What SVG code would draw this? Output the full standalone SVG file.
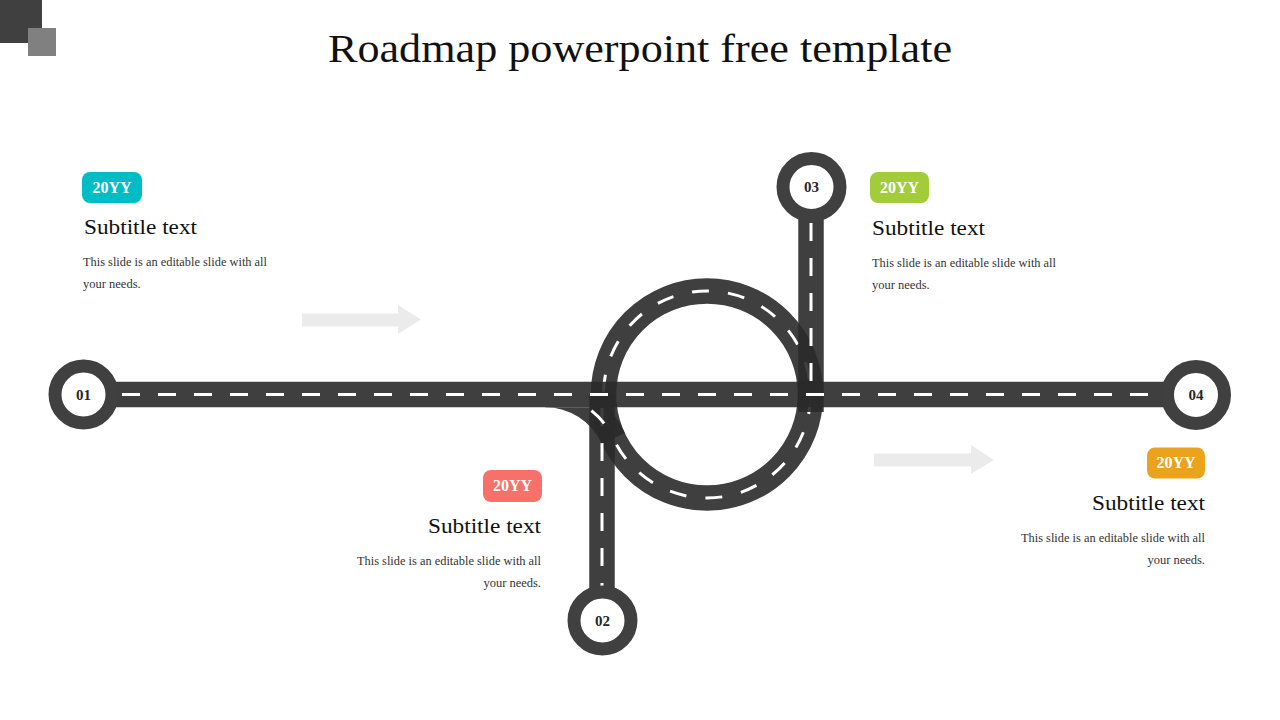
<svg xmlns="http://www.w3.org/2000/svg" width="1280" height="720" viewBox="0 0 1280 720">
<style>
.road{fill:none;stroke:#2a2a2a;stroke-opacity:0.9;stroke-width:25.5}
.dash{fill:none;stroke:#ffffff;stroke-width:3}
.node circle{fill:#ffffff;stroke:#404040;stroke-width:13}
.node text{font-family:"Liberation Serif","DejaVu Serif",serif;font-weight:bold;font-size:15px;fill:#262626;text-anchor:middle}
.badge text{font-family:"Liberation Serif","DejaVu Serif",serif;font-weight:bold;font-size:16px;fill:#ffffff;text-anchor:middle}
.sub{font-family:"Liberation Serif","DejaVu Serif",serif;font-size:22px;fill:#111111}
.body{font-family:"Liberation Serif","DejaVu Serif",serif;font-size:12.5px;fill:#333333}
.arrow{fill:#ebebeb}
</style>
<defs>
<clipPath id="belowMain"><rect x="500" y="407.2" width="200" height="100"/></clipPath>
</defs>
<rect width="1280" height="720" fill="#ffffff"/>
<g id="corner">
<rect x="0" y="0" width="42" height="43" fill="#404040"/>
<rect x="28" y="28" width="28" height="28" fill="#808080"/>
</g>
<text id="title" x="640" y="62" text-anchor="middle" font-family="'Liberation Serif','DejaVu Serif',serif" font-size="40" fill="#111111" textLength="624" lengthAdjust="spacingAndGlyphs">Roadmap powerpoint free template</text>
<g id="arrows">
<polygon class="arrow" points="302,313.5 398,313.5 398,305 421,319.5 398,334 398,326.5 302,326.5"/>
<polygon class="arrow" points="874,453.5 971,453.5 971,445 994,460 971,474 971,466.5 874,466.5"/>
</g>
<g id="connectors">
<g id="loop">
<circle class="road" cx="707" cy="394.5" r="103.5"/>
<circle class="dash" cx="707" cy="394.5" r="103.5" stroke-dasharray="17 19.13" stroke-dashoffset="-2.5"/>
</g>
<g id="road-02">
<line class="road" x1="602" y1="394" x2="602" y2="620"/>
<line class="dash" x1="602" y1="408" x2="602" y2="590" stroke-dasharray="18 17"/>
</g>
<g id="curve" clip-path="url(#belowMain)">
<path class="road" d="M545 394.5 A75 75 0 0 1 613.2 438.2"/>
<path class="dash" d="M545 394.5 A75 75 0 0 1 613.2 438.2" stroke-dasharray="18 18" stroke-dashoffset="-14"/>
</g>
<g id="road-03">
<line class="road" x1="811" y1="187" x2="811" y2="412"/>
<line class="dash" x1="811" y1="223" x2="811" y2="382" stroke-dasharray="18 17"/>
</g>
<g id="road-main">
<line class="road" x1="84" y1="394.5" x2="1196" y2="394.5"/>
<line class="dash" x1="122" y1="394.5" x2="1160" y2="394.5" stroke-dasharray="18 18"/>
</g>
</g>
<g id="node-01" class="node"><circle cx="83.5" cy="394.5" r="28.5"/><text x="83.5" y="399.5">01</text></g>
<g id="node-02" class="node"><circle cx="602.5" cy="620.5" r="28.5"/><text x="602.5" y="625.5">02</text></g>
<g id="node-03" class="node"><circle cx="811.5" cy="187" r="28.5"/><text x="811.5" y="192">03</text></g>
<g id="node-04" class="node"><circle cx="1196" cy="395" r="28.5"/><text x="1196" y="400">04</text></g>
<g id="item-1">
<g class="badge"><rect x="82" y="172" width="60" height="31" rx="8" fill="#00bcc5"/><text x="112" y="192.5">20YY</text></g>
<text class="sub" x="84" y="234" textLength="113" lengthAdjust="spacingAndGlyphs">Subtitle text</text>
<text class="body" x="83" y="266" textLength="184" lengthAdjust="spacingAndGlyphs">This slide is an editable slide with all</text>
<text class="body" x="83" y="288">your needs.</text>
</g>
<g id="item-2">
<g class="badge"><rect x="483" y="470" width="59" height="32" rx="8" fill="#f7706a"/><text x="512.5" y="491">20YY</text></g>
<text class="sub" x="428" y="533" textLength="113" lengthAdjust="spacingAndGlyphs">Subtitle text</text>
<text class="body" x="357" y="565" textLength="184" lengthAdjust="spacingAndGlyphs">This slide is an editable slide with all</text>
<text class="body" x="541" y="587" text-anchor="end">your needs.</text>
</g>
<g id="item-3">
<g class="badge"><rect x="870" y="172" width="59" height="31" rx="8" fill="#a3cc3a"/><text x="899.5" y="192.5">20YY</text></g>
<text class="sub" x="872" y="235" textLength="113" lengthAdjust="spacingAndGlyphs">Subtitle text</text>
<text class="body" x="872" y="266.5" textLength="184" lengthAdjust="spacingAndGlyphs">This slide is an editable slide with all</text>
<text class="body" x="872" y="288.5">your needs.</text>
</g>
<g id="item-4">
<g class="badge"><rect x="1147" y="447.5" width="58" height="31" rx="8" fill="#eba31e"/><text x="1176" y="468">20YY</text></g>
<text class="sub" x="1092" y="510" textLength="113" lengthAdjust="spacingAndGlyphs">Subtitle text</text>
<text class="body" x="1021" y="542" textLength="184" lengthAdjust="spacingAndGlyphs">This slide is an editable slide with all</text>
<text class="body" x="1205" y="564" text-anchor="end">your needs.</text>
</g>
</svg>
